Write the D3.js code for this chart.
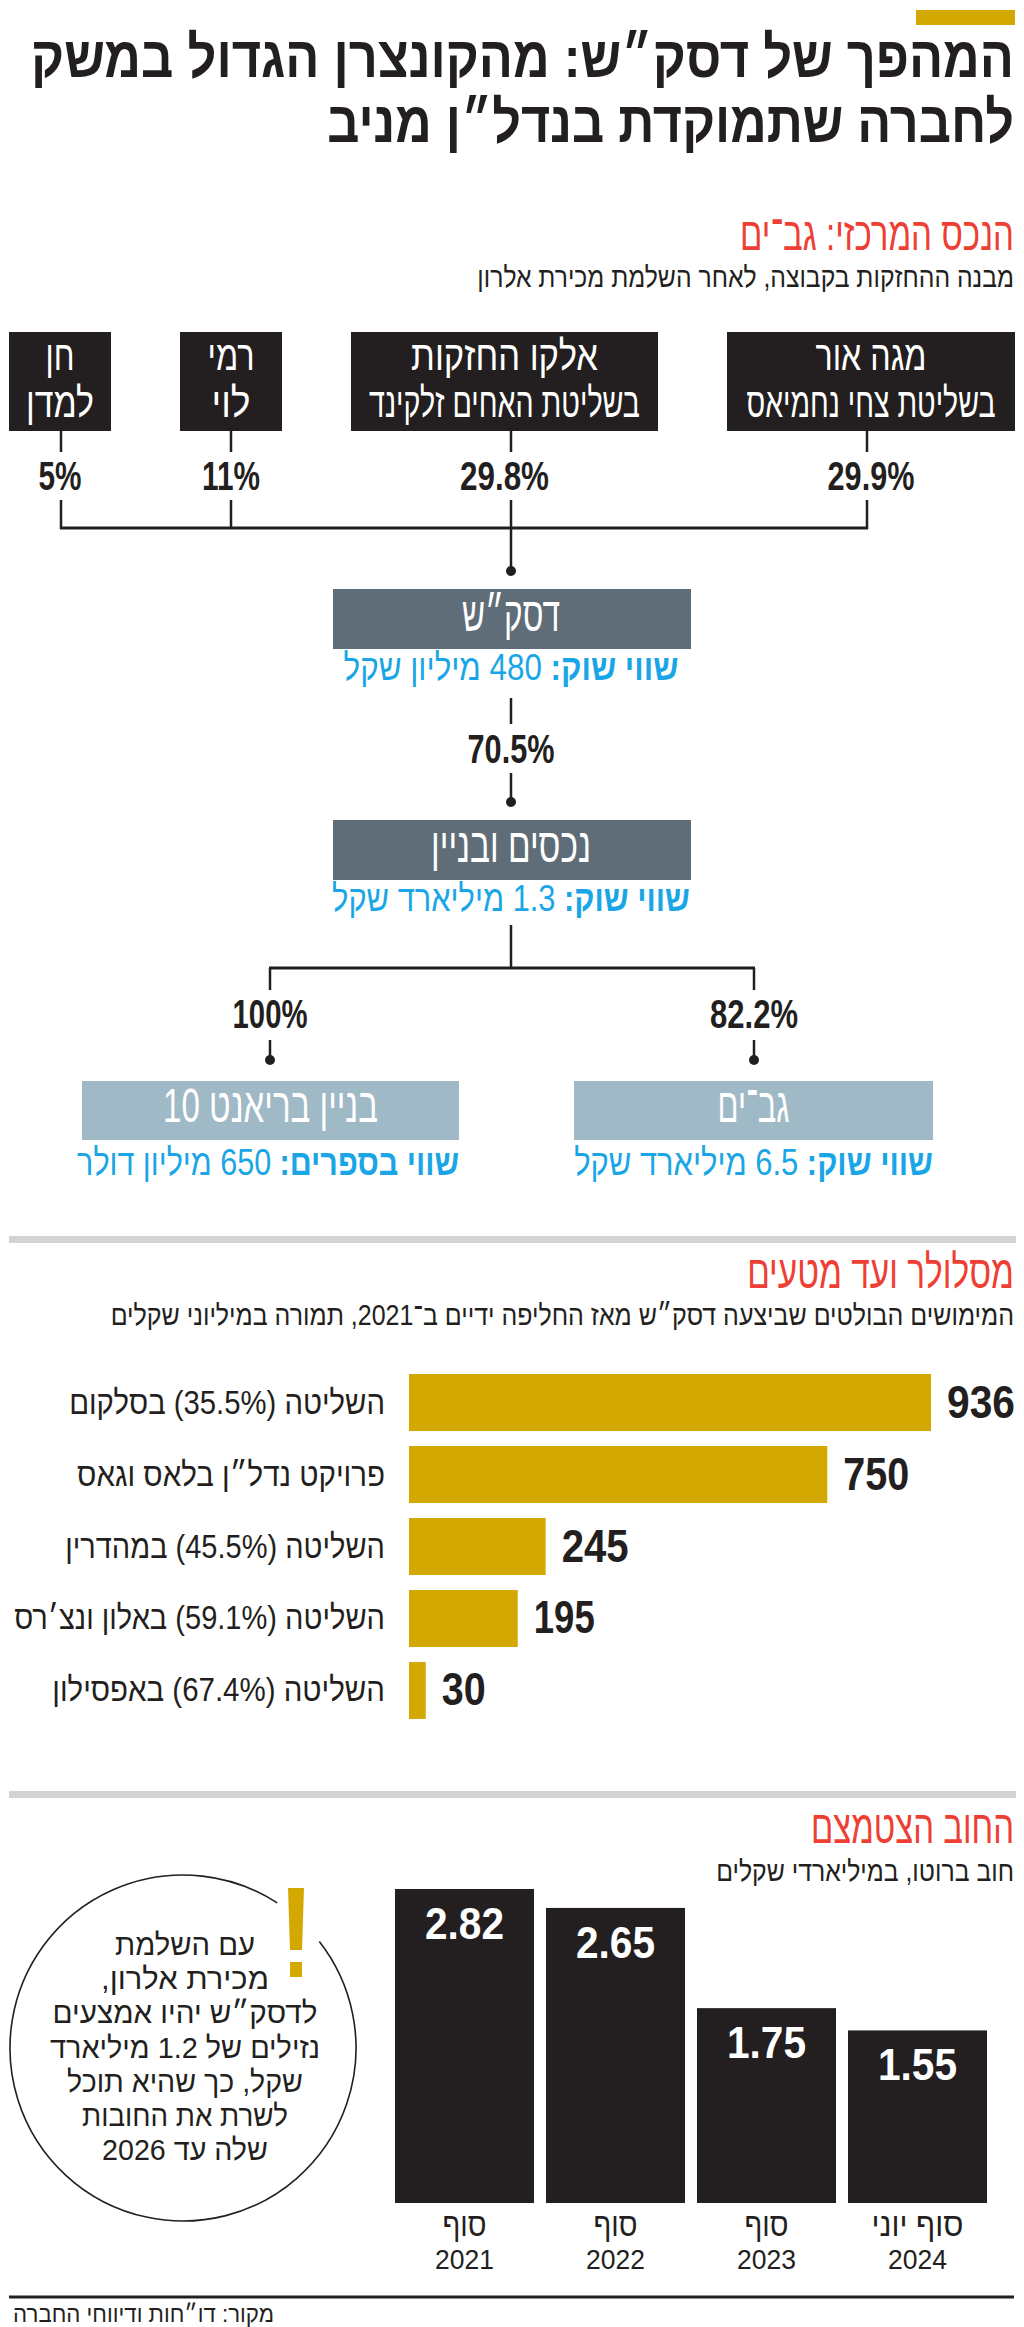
<!DOCTYPE html>
<html lang="he" dir="rtl">
<head>
<meta charset="utf-8">
<script src="https://cdn.jsdelivr.net/npm/d3@7/dist/d3.min.js"></script>
<style>
  html, body { margin: 0; padding: 0; background: #fff; }
  svg { display: block; font-family: "Liberation Sans", Arial, "DejaVu Sans", sans-serif; }
</style>
</head>
<body>
<svg id="chart" width="1024" height="2327"></svg>
<script>
// ---------------- DATA ----------------
const titleLines = ["המהפך של דסק״ש: מהקונצרן הגדול במשק", "לחברה שתמוקדת בנדל״ן מניב"];

const sec1Title = "הנכס המרכזי: גב־ים";
const sec1Sub = "מבנה ההחזקות בקבוצה, לאחר השלמת מכירת אלרון";
const holderNames = ["מגה אור", "אלקו החזקות", "רמי", "חן"];
const holderSubs = ["בשליטת צחי נחמיאס", "בשליטת האחים זלקינד", "לוי", "למדן"];
const holderStakes = ["29.9%", "29.8%", "11%", "5%"];
const midNames = ["דסק״ש", "נכסים ובניין"];
const midValueLabels = ["שווי שוק:", "שווי שוק:"];
const midValues = ["480 מיליון שקל", "1.3 מיליארד שקל"];
const midStakes = ["70.5%"];
const subNames = ["גב־ים", "בניין בריאנט 10"];
const subStakes = ["82.2%", "100%"];
const subValueLabels = ["שווי שוק:", "שווי בספרים:"];
const subValues = ["6.5 מיליארד שקל", "650 מיליון דולר"];

const sec2Title = "מסלולר ועד מטעים";
const sec2Sub = "המימושים הבולטים שביצעה דסק״ש מאז החליפה ידיים ב־2021, תמורה במיליוני שקלים";
const exitLabels = ["השליטה (35.5%) בסלקום", "פרויקט נדל״ן בלאס וגאס", "השליטה (45.5%) במהדרין", "השליטה (59.1%) באלון ונצ׳רס", "השליטה (67.4%) באפסילון"];
const exitValues = [936, 750, 245, 195, 30];

const sec3Title = "החוב הצטמצם";
const sec3Sub = "חוב ברוטו, במיליארדי שקלים";
const debtPeriods = ["סוף", "סוף", "סוף", "סוף יוני"];
const debtYears = ["2021", "2022", "2023", "2024"];
const debtValues = [2.82, 2.65, 1.75, 1.55];
const noteLines = ["עם השלמת", "מכירת אלרון,", "לדסק״ש יהיו אמצעים", "נזילים של 1.2 מיליארד", "שקל, כך שהיא תוכל", "לשרת את החובות", "שלה עד 2026"];
const sourceText = "מקור: דו״חות ודיווחי החברה";

// ---------------- STYLE ----------------
const C = {
  ink: "#231f20", gold: "#d3a800", red: "#ee3f34", slate: "#5e6d78",
  pale: "#9fb9c7", blue: "#1aa6e6", sep: "#d3d3d3"
};

const svg = d3.select("#chart");

// text helper: anchor 'right' | 'left' | 'middle'; w = fitted width
function T(x, y, str, o = {}) {
  const g = svg.append("g").attr("transform", `translate(${x},${y})`);
  const anchor = o.anchor === "left" ? "end" : o.anchor === "middle" ? "middle" : "start";
  const t = g.append("text")
    .attr("direction", "rtl")
    .attr("text-anchor", anchor)
    .attr("font-size", o.size || 28)
    .attr("font-weight", o.weight || 400)
    .attr("fill", o.fill || C.ink);
  if (o.parts) {
    o.parts.forEach(p => t.append("tspan").attr("font-weight", p.weight || 400).text(p.text));
  } else {
    t.text(str);
  }
  let sx = o.sx || 0.78;
  if (o.w) sx = o.w / t.node().getComputedTextLength();
  t.attr("transform", `scale(${sx},1)`);
  return t;
}
function line(x1, y1, x2, y2, w = 2.5) {
  svg.append("line").attr("x1", x1).attr("y1", y1).attr("x2", x2).attr("y2", y2)
    .attr("stroke", C.ink).attr("stroke-width", w);
}
function dot(x, y) {
  svg.append("circle").attr("cx", x).attr("cy", y).attr("r", 5).attr("fill", C.ink);
}

// ---------------- HEADER ----------------
svg.append("rect").attr("x", 916).attr("y", 10).attr("width", 99).attr("height", 15).attr("fill", C.gold);
T(1014, 77, titleLines[0], { size: 58, weight: 700, w: 983 });
T(1014, 142, titleLines[1], { size: 58, weight: 700, w: 687 });

// ---------------- SECTION 1: ORG CHART ----------------
T(1014, 250, sec1Title, { size: 46, fill: C.red, w: 274 });
T(1014, 287, sec1Sub, { size: 29, w: 537 });

const boxX = [[727, 1015], [351, 658], [180, 282], [9, 111]];
const linkX = [867, 511, 231, 61];
const w1 = [111, 187, 47, 29], w2 = [249, 271, 39, 68];
holderNames.forEach((n, i) => {
  const [x0, x1] = boxX[i];
  const cx = (x0 + x1) / 2;
  svg.append("rect").attr("x", x0).attr("y", 332).attr("width", x1 - x0).attr("height", 99).attr("fill", C.ink);
  T(cx, 370, n, { anchor: "middle", size: 41, fill: "#fff", w: w1[i] });
  T(cx, 417, holderSubs[i], { anchor: "middle", size: 41, fill: "#fff", w: w2[i] });
  line(linkX[i], 431, linkX[i], 452);
  T(cx, 490, holderStakes[i], { anchor: "middle", size: 40, weight: 700, w: [87, 89, 58, 43][i] });
  line(linkX[i], 500, linkX[i], 529);
});
line(linkX[3] - 1, 528, linkX[0] + 1, 528, 3);
line(511, 528, 511, 570);
dot(511, 571);

// DSK box
const midY = [589, 820];
midNames.forEach((n, i) => {
  svg.append("rect").attr("x", 333).attr("y", midY[i]).attr("width", 358).attr("height", 60).attr("fill", C.slate);
  T(511, midY[i] + 42, n, { anchor: "middle", size: 48, fill: "#fff", w: i === 0 ? 98 : 160 });
  T(511, midY[i] + 91, null, {
    anchor: "middle", size: 37, fill: C.blue, w: i === 0 ? 335 : 358,
    parts: [{ text: midValueLabels[i] + " ", weight: 700 }, { text: midValues[i] }]
  });
});
line(511, 698, 511, 724);
T(511, 763, midStakes[0], { anchor: "middle", size: 40, weight: 700, w: 87 });
line(511, 773, 511, 800);
dot(511, 802);

// to subsidiaries
line(511, 925, 511, 968);
line(269, 968, 755, 968, 3);
const subCX = [754, 270];
const subBox = [[574, 933], [82, 459]];
const subNameW = [72, 215], subValW = [359, 382];
subNames.forEach((n, i) => {
  const cx = subCX[i];
  line(cx, 968, cx, 990);
  T(cx, 1028, subStakes[i], { anchor: "middle", size: 40, weight: 700, w: [88, 75][i] });
  line(cx, 1040, cx, 1058);
  dot(cx, 1060);
  const [x0, x1] = subBox[i];
  svg.append("rect").attr("x", x0).attr("y", 1081).attr("width", x1 - x0).attr("height", 59).attr("fill", C.pale);
  T((x0 + x1) / 2, 1122, n, { anchor: "middle", size: 48, fill: "#fff", w: subNameW[i] });
  T(x1, 1175, null, {
    size: 37, fill: C.blue, w: subValW[i],
    parts: [{ text: subValueLabels[i] + " ", weight: 700 }, { text: subValues[i] }]
  });
});

// ---------------- SECTION 2: BARS ----------------
svg.append("rect").attr("x", 9).attr("y", 1236).attr("width", 1007).attr("height", 7).attr("fill", C.sep);
T(1014, 1288, sec2Title, { size: 46, fill: C.red, w: 267 });
T(1014, 1325, sec2Sub, { size: 29, w: 904 });

const xb = d3.scaleLinear().domain([0, d3.max(exitValues)]).range([409, 931]);
const yb = d3.scaleBand().domain(exitLabels).range([1374, 1719]).paddingInner(0.208);
const labW = [316, 308, 320, 371, 333];
const valW = [68, 66, 67, 61, 44];
exitLabels.forEach((lab, i) => {
  const v = exitValues[i];
  const yc = yb(lab) + yb.bandwidth() / 2;
  svg.append("rect").attr("x", xb(0)).attr("y", yb(lab)).attr("width", xb(v) - xb(0))
    .attr("height", yb.bandwidth()).attr("fill", C.gold);
  T(385, yc + 11, lab, { size: 33, w: labW[i] });
  T(xb(v) + 16, yc + 15, String(v), { anchor: "left", size: 46, weight: 700, w: valW[i] });
});

// ---------------- SECTION 3: DEBT ----------------
svg.append("rect").attr("x", 9).attr("y", 1791).attr("width", 1007).attr("height", 7).attr("fill", C.sep);
T(1014, 1843, sec3Title, { size: 46, fill: C.red, w: 203 });
T(1014, 1881, sec3Sub, { size: 29, w: 298 });

const xd = d3.scaleBand().domain(debtYears).range([395, 987]).paddingInner(12 / 151);
const yd = d3.scaleLinear().domain([0, d3.max(debtValues)]).range([2203, 1889]);
const perW = [44, 44, 44, 92];
debtYears.forEach((yr, i) => {
  const v = debtValues[i];
  const cx = xd(yr) + xd.bandwidth() / 2;
  svg.append("rect").attr("x", xd(yr)).attr("y", yd(v)).attr("width", xd.bandwidth())
    .attr("height", yd(0) - yd(v)).attr("fill", C.ink);
  T(cx, yd(v) + 50, v.toFixed(2), { anchor: "middle", size: 44, weight: 700, fill: "#fff", w: 79 });
  T(cx, 2236, debtPeriods[i], { anchor: "middle", size: 33, w: perW[i] });
  T(cx, 2269, yr, { anchor: "middle", size: 28, w: 59 });
});

// note circle with gap and a gold exclamation mark
const circ = d3.path();
circ.arc(183, 2048, 173, -38 * Math.PI / 180, 303 * Math.PI / 180);
svg.append("path").attr("d", circ.toString()).attr("fill", "none").attr("stroke", C.ink).attr("stroke-width", 1.6);
svg.append("path").attr("d", "M288,1888 L304,1888 L302,1950 L290,1950 Z").attr("fill", C.gold);
svg.append("rect").attr("x", 290).attr("y", 1962).attr("width", 12).attr("height", 15).attr("fill", C.gold);
const noteW = [140, 168, 265, 270, 236, 206, 166];
noteLines.forEach((l, i) => {
  T(185, 1955 + i * 34.2, l, { anchor: "middle", size: 30, w: noteW[i] });
});

// bottom rule + source
line(9, 2297, 1014, 2297, 3);
T(274, 2322, sourceText, { size: 24, w: 261 });
</script>
</body>
</html>
